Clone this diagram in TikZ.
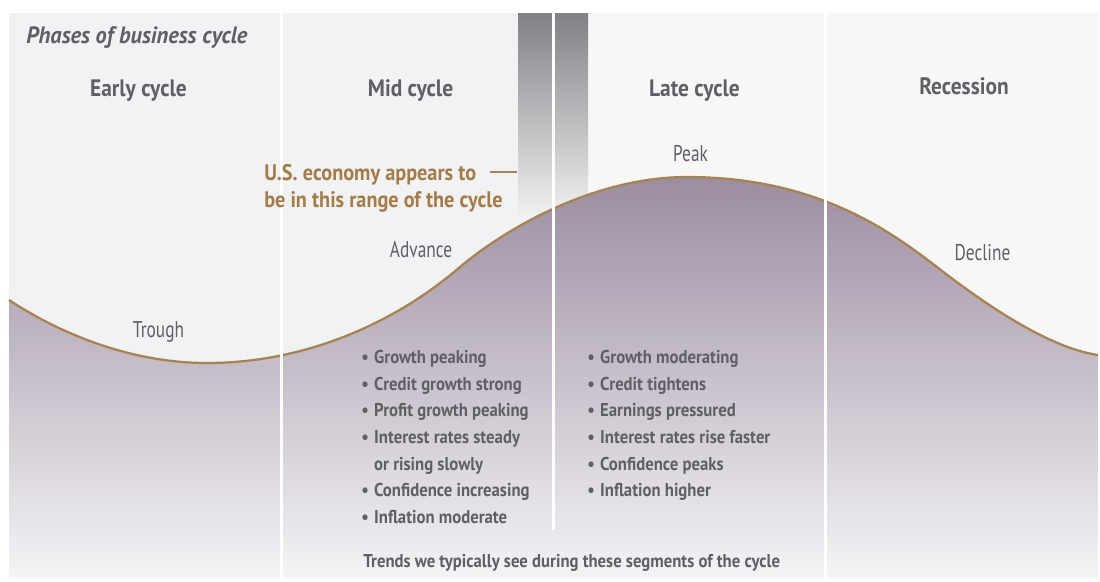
\documentclass[tikz,border=0pt]{standalone}
\usepackage{fontspec}
\setmainfont{PT Sans}[FakeStretch=0.9]
\newfontfamily\labelfont{PT Sans}[FakeStretch=0.76]
\newfontfamily\titlefont{PT Sans}[FakeStretch=0.95]
\usepackage{tikz}

\definecolor{panelleft}{HTML}{F1F2F4}
\definecolor{panelright}{HTML}{F7F7F7}
\definecolor{inkgray}{HTML}{5F6065}
\definecolor{goldline}{HTML}{A9834C}
\definecolor{goldtext}{HTML}{A67C45}
\definecolor{filltop}{HTML}{9C8DA1}
\definecolor{fillmid}{HTML}{C2BAC9}
\definecolor{fillbot}{HTML}{F4F4F6}
\definecolor{bartop}{HTML}{828084}

\newcommand\cyclecurve{(9,300) .. controls (70,340) and (140,363) .. (207,363)
  .. controls (300,363) and (390,327) .. (460,267)
  .. controls (500,233) and (590,177) .. (687,177)
  .. controls (830,177) and (905,243) .. (950,277)
  .. controls (990,307) and (1050,348) .. (1098,355)}

\begin{document}
\begin{tikzpicture}[x=0.025cm, y=-0.025cm,
    phase/.style={font=\bfseries\fontsize{16.9}{20}\selectfont, text=inkgray, anchor=base, inner sep=0pt},
    marker/.style={font=\labelfont\fontsize{16.2}{20}\selectfont, text=inkgray, anchor=base, inner sep=0pt},
    trendlist/.style={font=\bfseries\fontsize{13.2}{19}\selectfont, text=inkgray, anchor=base west, inner sep=0pt},
    divider/.style={white, line width=2pt}]
    \tikzset{usnote/.style={font=\bfseries\fontsize{16}{19.8}\selectfont, text=goldtext, anchor=base west, inner sep=0pt},
        pointerline/.style={goldline, line width=1.4pt}}

    % background
    \useasboundingbox (0,0) rectangle (1100,581);
    \fill[white] (0,0) rectangle (1100,581);
    \fill[panelleft] (9,13) rectangle (553,578);
    \fill[panelright] (553,13) rectangle (1098,578);
    \shade[top color=bartop, bottom color=panelleft] (518,13) rectangle (588,218);

    % the cycle
    \shade[top color=filltop, middle color=fillmid, bottom color=fillbot] \cyclecurve -- (1098,578) -- (9,578) -- cycle;
    \draw[goldline, line width=1.6pt] \cyclecurve;

    % segment dividers
    \draw[divider] (281.5,13) -- (281.5,578);
    \draw[divider] (553.5,13) -- (553.5,530);
    \draw[divider] (825.5,13) -- (825.5,578);

    \node[font=\titlefont\bfseries\itshape\fontsize{16.8}{20}\selectfont, text=inkgray, anchor=base west, inner sep=0pt] (title) at (26,43.3) {Phases of business cycle};

    \node[phase] (early) at (138.4,96.7) {Early cycle};
    \node[phase] (mid) at (410.5,96.7) {Mid cycle};
    \node[phase] (late) at (694.5,96.7) {Late cycle};
    \node[phase] (recession) at (964,94.7) {Recession};

    \node[marker] (peak) at (690.5,161.7) {Peak};
    \node[marker] (advance) at (421,257.3) {Advance};
    \node[marker] (decline) at (982.5,260) {Decline};
    \node[marker] (trough) at (158.5,337.3) {Trough};

    \node[usnote] (usnote) at (264,180) {\begin{tabular}[t]{@{}l@{}}U.S. economy appears to\\ be in this range of the cycle\end{tabular}};
    \coordinate (pointer) at (516.5,171.7);
    \draw[pointerline] (pointer) -- ++(-27,0);

    \node[trendlist] (midtrends) at (361,363.3) {\begin{tabular}[t]{@{}p{9.2pt}@{}l@{}}
        \textbullet & Growth peaking\\
        \textbullet & Credit growth strong\\
        \textbullet & Profit growth peaking\\
        \textbullet & Interest rates steady\\
                    & or rising slowly\\
        \textbullet & Confidence increasing\\
        \textbullet & Inflation moderate
    \end{tabular}};
    \node[trendlist] (latetrends) at (587,363.3) {\begin{tabular}[t]{@{}p{9.2pt}@{}l@{}}
        \textbullet & Growth moderating\\
        \textbullet & Credit tightens\\
        \textbullet & Earnings pressured\\
        \textbullet & Interest rates rise faster\\
        \textbullet & Confidence peaks\\
        \textbullet & Inflation higher
    \end{tabular}};

    \node[font=\bfseries\fontsize{13.2}{16}\selectfont, text=inkgray, anchor=base, inner sep=0pt] (trends) at (571.7,567.3) {Trends we typically see during these segments of the cycle};
\end{tikzpicture}
\end{document}
